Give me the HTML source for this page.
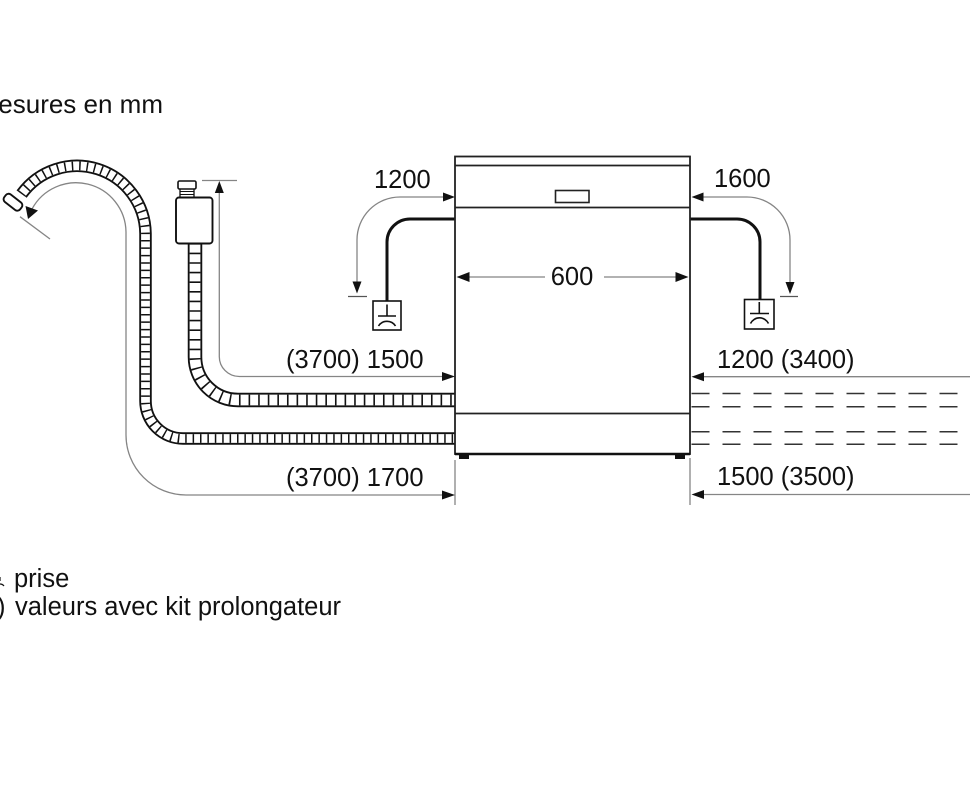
<!DOCTYPE html>
<html>
<head>
<meta charset="utf-8">
<style>
  html, body { margin: 0; padding: 0; background: #fff; }
  body { width: 970px; height: 804px; overflow: hidden; }
  svg { display: block; }
  text { font-family: "Liberation Sans", Arial, sans-serif; font-size: 25.5px; fill: #111; }
</style>
</head>
<body>
<svg width="970" height="804" viewBox="0 0 970 804" xmlns="http://www.w3.org/2000/svg">
  <rect x="0" y="0" width="970" height="804" fill="#fff"/>

  <!-- Title (clipped) -->
  <text x="163" y="113" text-anchor="end" style="font-size:26px">Mesures en mm</text>

  <!-- ===== Drain hose (outer) ===== -->
  <g fill="none" stroke-linecap="butt">
    <path d="M21.6,194.1 A68.5,68.5 0 0 1 145.5,233.5 L145.5,401 A37.5,37.5 0 0 0 183,438.5 L455,438.5" stroke="#111" stroke-width="12.5"/>
    <path d="M21.6,194.1 A68.5,68.5 0 0 1 145.5,233.5 L145.5,401 A37.5,37.5 0 0 0 183,438.5 L455,438.5" stroke="#fff" stroke-width="8.8"/>
    <path d="M21.6,194.1 A68.5,68.5 0 0 1 145.5,233.5 L145.5,401 A37.5,37.5 0 0 0 183,438.5 L455,438.5" stroke="#111" stroke-width="8.8" stroke-dasharray="1.5 5.9"/>
  </g>
  <!-- drain hose end cap -->
  <rect x="3" y="197.5" width="20" height="9.5" rx="3.5" fill="#fff" stroke="#111" stroke-width="1.9" transform="rotate(38 13 202.2)"/>

  <!-- ===== Fill hose (inner) ===== -->
  <g fill="none" stroke-linecap="butt">
    <path d="M195,243 L195,357 A43,43 0 0 0 238,400 L455,400" stroke="#111" stroke-width="14.5"/>
    <path d="M195,243 L195,357 A43,43 0 0 0 238,400 L455,400" stroke="#fff" stroke-width="10.8"/>
    <path d="M195,243 L195,357 A43,43 0 0 0 238,400 L455,400" stroke="#111" stroke-width="10.8" stroke-dasharray="1.6 8"/>
  </g>
  <!-- aquastop -->
  <rect x="180" y="188.5" width="14" height="9" fill="#fff" stroke="#111" stroke-width="1.3"/>
  <line x1="180" y1="191.5" x2="194" y2="191.5" stroke="#111" stroke-width="1"/>
  <line x1="180" y1="194.5" x2="194" y2="194.5" stroke="#111" stroke-width="1"/>
  <rect x="178" y="181" width="18" height="8" rx="1.5" fill="#fff" stroke="#111" stroke-width="1.6"/>
  <rect x="176" y="197.5" width="36.5" height="46" rx="3" fill="#fff" stroke="#111" stroke-width="1.9"/>

  <!-- ===== Gray dimension lines, left ===== -->
  <g fill="none" stroke="#858585" stroke-width="1.3">
    <!-- 1500 -->
    <path d="M219.3,192 L219.3,356 A20,20 0 0 0 239.3,376.5 L443,376.5"/>
    <line x1="202" y1="180.5" x2="237" y2="180.5"/>
    <!-- 1700 -->
    <path d="M32,209 A50,50 0 0 1 126,232 L126,435 A60,60 0 0 0 186,495 L443,495"/>
    <line x1="20" y1="216.7" x2="50" y2="239"/>
    <!-- extension lines below appliance -->
    <line x1="455" y1="460" x2="455" y2="505"/>
    <line x1="690" y1="458" x2="690" y2="505"/>
    <!-- right side -->
    <line x1="703" y1="376.7" x2="970" y2="376.7"/>
    <line x1="703" y1="494.5" x2="970" y2="494.5"/>
    <!-- 1200 / 1600 -->
    <path d="M443,197 L400,197 A43,43 0 0 0 357,240 L357,283"/>
    <path d="M703,197 L747,197 A43,43 0 0 1 790,240 L790,283"/>
    <!-- 600 -->
    <line x1="468" y1="277" x2="545" y2="277"/>
    <line x1="604" y1="277" x2="678" y2="277"/>
  </g>
  <g stroke="#555" stroke-width="1.3">
    <line x1="348" y1="296.5" x2="367" y2="296.5"/>
    <line x1="780" y1="296.5" x2="798" y2="296.5"/>
  </g>

  <!-- Arrowheads -->
  <g fill="#111">
    <polygon points="219.3,181 214.8,193 223.8,193"/>
    <polygon points="455,376.5 442,372 442,381"/>
    <polygon points="455,495 442,490.5 442,499.5"/>
    <polygon points="28,219 25.5,206 38,210.5"/>
    <polygon points="455,197 443,192.5 443,201.5"/>
    <polygon points="357,293.5 352.5,281.5 361.5,281.5"/>
    <polygon points="691.5,197 703.5,192.5 703.5,201.5"/>
    <polygon points="790,294 785.5,282 794.5,282"/>
    <polygon points="456.5,277 469.5,272 469.5,282"/>
    <polygon points="688.5,277 675.5,272 675.5,282"/>
    <polygon points="691.5,376.7 704,372.2 704,381.2"/>
    <polygon points="691.5,494.5 704,490 704,499"/>
  </g>

  <!-- ===== Power cables ===== -->
  <g fill="none" stroke="#111" stroke-width="3">
    <path d="M455,219 L410,219 A23,23 0 0 0 387,242 L387,301"/>
    <path d="M690,219 L737,219 A23,23 0 0 1 760,242 L760,299.5"/>
  </g>

  <!-- Sockets -->
  <g fill="none" stroke="#111" stroke-width="1.6">
    <rect x="373" y="301" width="28" height="29" fill="#fff"/>
    <line x1="387" y1="304.5" x2="387" y2="316"/>
    <line x1="378" y1="316" x2="396" y2="316"/>
    <path d="M378.5,326 A10,10 0 0 1 395.5,326"/>

    <rect x="744.5" y="299.5" width="29.5" height="29.5" fill="#fff"/>
    <line x1="759.3" y1="302" x2="759.3" y2="313.5"/>
    <line x1="750" y1="313.5" x2="769" y2="313.5"/>
    <path d="M750.5,323.5 A10,10 0 0 1 768.5,323.5"/>
  </g>

  <!-- ===== Appliance ===== -->
  <g fill="none" stroke="#222" stroke-width="1.8">
    <rect x="455" y="156.5" width="235" height="297.5"/>
    <line x1="455" y1="165.5" x2="690" y2="165.5"/>
    <line x1="455" y1="207.5" x2="690" y2="207.5"/>
    <line x1="455" y1="413.5" x2="690" y2="413.5"/>
    <rect x="555.5" y="190.5" width="33.5" height="12" stroke-width="1.6"/>
  </g>
  <line x1="455" y1="454" x2="690" y2="454" stroke="#111" stroke-width="2.4"/>
  <rect x="459" y="454" width="10" height="5" fill="#111"/>
  <rect x="675" y="454" width="10" height="5" fill="#111"/>

  <!-- Hidden hose continuation (dashed) -->
  <g stroke="#333" stroke-width="1.5" stroke-dasharray="18 13">
    <line x1="691.5" y1="393.5" x2="970" y2="393.5"/>
    <line x1="691.5" y1="406.7" x2="970" y2="406.7"/>
    <line x1="691.5" y1="431.7" x2="970" y2="431.7"/>
    <line x1="691.5" y1="444.3" x2="970" y2="444.3"/>
  </g>

  <!-- ===== Labels ===== -->
  <text x="374" y="188">1200</text>
  <text x="714" y="187">1600</text>
  <text x="572" y="285" text-anchor="middle">600</text>
  <text x="286" y="368">(3700) 1500</text>
  <text x="286" y="486">(3700) 1700</text>
  <text x="717" y="368">1200 (3400)</text>
  <text x="717" y="485">1500 (3500)</text>

  <!-- Legend -->
  <path d="M-4,586 A5,5 0 0 1 4,586" fill="none" stroke="#111" stroke-width="1.2"/>
  <line x1="0" y1="577" x2="0" y2="581" stroke="#111" stroke-width="1.2"/>
  <text x="14" y="587">prise</text>
  <text x="-3" y="615">)</text>
  <text x="15" y="615">valeurs avec kit prolongateur</text>
</svg>
</body>
</html>
